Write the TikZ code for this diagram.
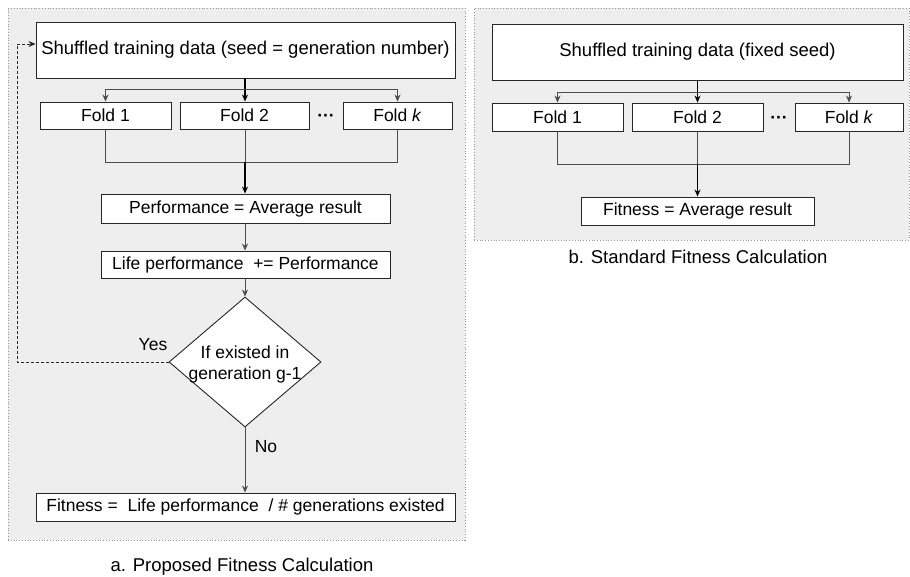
\documentclass[tikz,border=0pt]{standalone}
\usepackage{fontspec}
\setmainfont{Liberation Sans}
\usetikzlibrary{arrows.meta,shapes.geometric,calc}
\definecolor{panelgray}{RGB}{238,238,238}
\definecolor{panelline}{RGB}{150,150,150}
\begin{document}
\begin{tikzpicture}[x=1pt,y=-1pt,
  panelbox/.style={draw=panelline, dotted, line width=0.8pt, fill=panelgray, inner sep=0pt},
  box/.style={draw=black!85, line width=0.9pt, fill=white, inner sep=0pt, font=\fontsize{17.5}{21}\selectfont},
  bigbox/.style={box, font=\fontsize{18.5}{22}\selectfont},
  txt/.style={inner sep=0pt, font=\fontsize{17.5}{21}\selectfont},
  conn/.style={draw=black!70, line width=0.8pt},
  trunk/.style={draw=black, line width=1.1pt},
  tip/.style={-{Stealth[length=7pt,width=6pt]}},
  dashconn/.style={draw=black!85, line width=0.8pt, dashed, dash pattern=on 3pt off 2pt}
]
\useasboundingbox (0,0) rectangle (910,576);

% panels
\node[panelbox, minimum width=457pt, minimum height=532pt] (pa) at (236.5,274) {};
\node[panelbox, minimum width=435pt, minimum height=232pt] (pb) at (691.5,124) {};

% ---------- panel a ----------
\node[bigbox, minimum width=419pt, minimum height=56pt] (sa) at (245.5,50) {Shuffled training data (seed = generation number)};
\node[box, minimum width=131pt, minimum height=27pt] (f1) at (105.5,115.5) {Fold 1};
\node[box, minimum width=129pt, minimum height=27pt] (f2) at (244.5,115.5) {Fold 2};
\node[box, minimum width=109pt, minimum height=27pt] (fk) at (397.5,115.5) {Fold \textit{k}};
\node[txt] (da) at (326,118) {\textbf{···}};
\node[box, minimum width=289pt, minimum height=29pt] (perf) at (245.5,208.5) {Performance = Average result};
\node[box, minimum width=289pt, minimum height=27pt] (life) at (245.5,264.5) {Life performance~~+= Performance};
\node[diamond, draw=black!85, line width=0.9pt, fill=white, inner sep=0pt,
      minimum width=152pt, minimum height=130pt, font=\fontsize{17.5}{21}\selectfont] (dec) at (245,362)
      {\smash{\makebox[0pt]{\raisebox{-7pt}{\begin{tabular}{@{}c@{}}If existed in\\[0.5pt]generation g-1\end{tabular}}}}};
\node[box, minimum width=419pt, minimum height=28pt] (fit) at (245.5,507) {Fitness =~~Life performance~~/ \# generations existed};
\node[txt] (yes) at (153,345) {Yes};
\node[txt] (no) at (266,447) {No};
\node[txt, font=\fontsize{18.5}{22}\selectfont] (capa) at (242,567) {a. Proposed Fitness Calculation};

\coordinate (sj) at (245,89);
\coordinate (mj) at (245,162);
\coordinate (lb) at (17,362);
\coordinate (lt) at ($(sa.west)+(0,-6)$);

\draw[trunk] (sa.south -| sj) -- (sj);
\draw[trunk, tip] (sj) -- (sj |- f2.north);
\draw[conn, tip] (sj) -| (f1.north);
\draw[conn, tip] (sj) -| (fk.north);
\draw[conn] (f1.south) |- (mj);
\draw[conn] (fk.south) |- (mj);
\draw[conn] (f2.south -| mj) -- (mj);
\draw[trunk, tip] (mj) -- (mj |- perf.north);
\draw[conn, tip] (perf.south -| mj) -- (mj |- life.north);
\draw[conn, tip] (life.south -| mj) -- (dec.north);
\draw[conn, tip] (dec.south) -- (dec.south |- fit.north);
\draw[dashconn, tip] (dec.west) -- (lb) |- (lt);

% ---------- panel b ----------
\node[bigbox, minimum width=411pt, minimum height=56pt] (sb) at (697.5,52) {Shuffled training data (fixed seed)};
\node[box, minimum width=131pt, minimum height=28pt] (g1) at (557.5,117) {Fold 1};
\node[box, minimum width=131pt, minimum height=28pt] (g2) at (697.5,117) {Fold 2};
\node[box, minimum width=108pt, minimum height=28pt] (gk) at (849,117) {Fold \textit{k}};
\node[txt] (db) at (779,119.5) {\textbf{···}};
\node[box, minimum width=233pt, minimum height=28pt] (fitb) at (697.5,211) {Fitness = Average result};
\node[txt, font=\fontsize{18.5}{22}\selectfont] (capb) at (698,257) {b. Standard Fitness Calculation};

\coordinate (tj) at (697.5,92);
\coordinate (nj) at (697.5,164);
\draw[trunk] (sb.south) -- (tj);
\draw[trunk, tip] (tj) -- (g2.north);
\draw[conn, tip] (tj) -| (g1.north);
\draw[conn, tip] (tj) -| (gk.north);
\draw[conn] (g1.south) |- (nj);
\draw[conn] (gk.south) |- (nj);
\draw[conn] (g2.south) -- (nj);
\draw[trunk, tip] (nj) -- (fitb.north);
\end{tikzpicture}
\end{document}
